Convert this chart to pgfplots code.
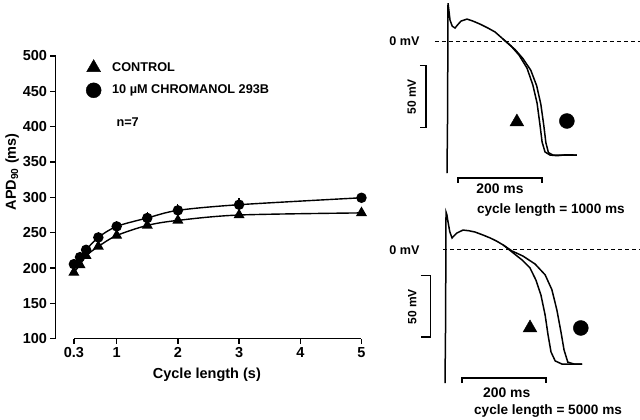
\documentclass[border=0pt]{standalone}
\usepackage{fontspec}
\setmainfont{Liberation Sans}
\usepackage{pgfplots}
\pgfplotsset{compat=1.18}

\pgfplotstableread{
x    y     e
0.3  205.5 7
0.4  215.4 7
0.5  225.8 7
0.7  243.3 7
1    258.9 8
1.5  270.8 9
2    281.6 9
3    289.6 9
5    299.4 7
}\chromanol
\pgfplotstableread{
x    y
0.3  193.6
0.4  204.5
0.5  217.3
0.7  230.5
1    246.0
1.5  260.3
2    267.4
3    275.0
5    278.0
}\control

\begin{document}
\begin{tikzpicture}[x=1pt,y=1pt]
\useasboundingbox (0,0) rectangle (640,420);

% APD90 vs cycle length
\begin{axis}[
    at={(55.5pt,81.3pt)}, anchor=south west,
    scale only axis, width=312.1pt, height=282.7pt,
    xmin=0, xmax=5.1, ymin=100, ymax=500,
    axis x line*=bottom, axis y line*=left,
    x axis line style={draw=none},
    y axis line style={line width=1.4pt},
    tick align=outside, major tick length=5pt,
    tick style={line width=1.4pt, black},
    xtick={0.3,1,2,3,4,5}, xticklabels={0.3,1,2,3,4,5},
    ytick={100,150,...,500},
    /pgf/number format/assume math mode=true,
    tick label style={font=\bfseries\fontsize{14.5}{16}\selectfont},
    xlabel={Cycle length (s)},
    ylabel={APD\textsubscript{90} (ms)},
    label style={font=\bfseries\fontsize{14.5}{16}\selectfont},
    xlabel style={at={(rel axis cs:0.485,-0.127)}, anchor=center},
    ylabel style={at={(rel axis cs:-0.139,0.59)}, anchor=center},
    clip=false,
    legend style={at={(rel axis cs:0.088,0.995)}, anchor=north west,
      draw=none, fill=none, row sep=8pt,
      /tikz/every odd column/.append style={column sep=9pt},
      font=\bfseries\fontsize{12.7}{15}\selectfont},
    legend cell align=left,
]
\draw[line width=1.4pt] (axis cs:0.3,100) -- (axis cs:5,100);

\addplot[black, line width=1.4pt, smooth, mark=triangle*, mark size=5pt,
  mark options={solid, fill=black}, forget plot] table[x=x, y=y] {\control};
\addplot[black, line width=1.4pt, smooth, mark=*, mark size=4.5pt,
  mark options={solid, fill=black}, forget plot,
  error bars/.cd, y dir=plus, y explicit, error mark=none,
  error bar style={line width=1.2pt}]
  table[x=x, y=y, y error=e] {\chromanol};

\addlegendimage{only marks, mark=triangle*, mark size=8pt, black}
\addlegendentry{CONTROL}
\addlegendimage{only marks, mark=*, mark size=7.5pt, black}
\addlegendentry{10 µM CHROMANOL 293B}

\node[anchor=west, font=\bfseries\fontsize{12.7}{15}\selectfont]
  at (axis cs:0.94,407) {n=7};
\end{axis}

% action potentials, cycle length 1000 ms
\begin{axis}[
    at={(370pt,210pt)}, anchor=south west,
    scale only axis, width=270pt, height=210pt,
    xmin=-185.7, xmax=457.1, ymin=-136.3, ymax=33.1,
    hide axis, clip=false,
]
\addplot[black, line width=0.8pt, dash pattern=on 4pt off 3pt]
  coordinates {(-31,0)(457,0)};
\addplot[black, line width=1.5pt] coordinates {
  (-2.4,-106.5)(-1,-60)(0,30.6)(2,25)(4.8,16.9)(10,12)(16.7,10.5)(24,13.5)
  (31,16.1)(45.2,17.7)(60,16)(76,13.7)(95,10.5)(112,7.3)(131,1.6)(150,-4)
  (169,-11.3)(188,-21.8)(202,-35.5)(212,-50)(219,-67.7)(224,-81.5)
  (231,-89.5)(243,-92)(260,-92.5)(280,-91.8)(307,-92)};
\addplot[black, line width=1.5pt] coordinates {
  (131,1.6)(160,-7)(178,-14)(197,-23.5)(211,-36)(221,-51)(228,-68)
  (233,-82)(239,-90)(250,-92)(280,-92)(307,-92)};
\addplot[black, only marks, mark=triangle*, mark size=8pt] coordinates {(164,-65.3)};
\addplot[black, only marks, mark=*, mark size=7.5pt] coordinates {(283,-64.5)};
% scale bars
\addplot[black, line width=1.2pt] coordinates {(-66.7,-20)(-52.4,-20)(-52.4,-70)(-66.7,-70)};
\addplot[black, line width=1.2pt] coordinates {(23.8,-114.5)(23.8,-110.5)(223.8,-110.5)(223.8,-114.5)};
\node[anchor=east, font=\bfseries\fontsize{12.6}{15}\selectfont] at (axis cs:-59.5,0) {0 mV};
\node[rotate=90, font=\bfseries\fontsize{12}{14}\selectfont] at (axis cs:-86.4,-44.9) {50 mV};
\node[font=\bfseries\fontsize{13.9}{16}\selectfont] at (axis cs:123.8,-119.4) {200 ms};
\node[font=\bfseries\fontsize{13.6}{16}\selectfont] at (axis cs:245,-136.3) {cycle length = 1000 ms};
\end{axis}

% action potentials, cycle length 5000 ms
\begin{axis}[
    at={(370pt,0pt)}, anchor=south west,
    scale only axis, width=270pt, height=210pt,
    xmin=-181, xmax=461.9, ymin=-139, ymax=31.7,
    hide axis, clip=false,
]
\addplot[black, line width=0.8pt, dash pattern=on 4pt off 3pt]
  coordinates {(-7,0)(461.9,0)};
\addplot[black, line width=1.5pt] coordinates {
  (-2.4,-109)(-1,-60)(0,30)(2,28)(4.8,22)(9,14)(14.3,9)(20,11)(26,13)
  (40.5,15.4)(55,14.8)(69,13.8)(87,11.5)(105,9)(120,6.5)(136,3.3)
  (157,-2.4)(181,-8.9)(200,-15.4)(214,-25.2)(226,-37.4)(236,-53.7)
  (243,-70)(250,-83.7)(260,-91)(276,-93.5)(324,-93.5)};
\addplot[black, line width=1.5pt] coordinates {
  (136,3.3)(157,-1.6)(183,-5.7)(212,-12.2)(236,-21)(252,-33)(264,-49.6)
  (274,-68)(281,-82)(290,-92)(305,-93.5)(324,-93.5)};
\addplot[black, only marks, mark=triangle*, mark size=8pt] coordinates {(200,-64.2)};
\addplot[black, only marks, mark=*, mark size=7.5pt] coordinates {(321,-64.2)};
% scale bars
\addplot[black, line width=1.2pt] coordinates {(-60.2,-21.5)(-36.9,-21.5)(-36.9,-71.5)(-60.2,-71.5)};
\addplot[black, line width=1.2pt] coordinates {(38,-109)(38,-104.9)(238,-104.9)(238,-109)};
\node[anchor=east, font=\bfseries\fontsize{12.6}{15}\selectfont] at (axis cs:-54.8,-1) {0 mV};
\node[rotate=90, font=\bfseries\fontsize{12}{14}\selectfont] at (axis cs:-80.2,-46.9) {50 mV};
\node[font=\bfseries\fontsize{13.9}{16}\selectfont] at (axis cs:144.5,-116.5) {200 ms};
\node[font=\bfseries\fontsize{13.6}{16}\selectfont] at (axis cs:242.9,-131.7) {cycle length = 5000 ms};
\end{axis}
\end{tikzpicture}
\end{document}
